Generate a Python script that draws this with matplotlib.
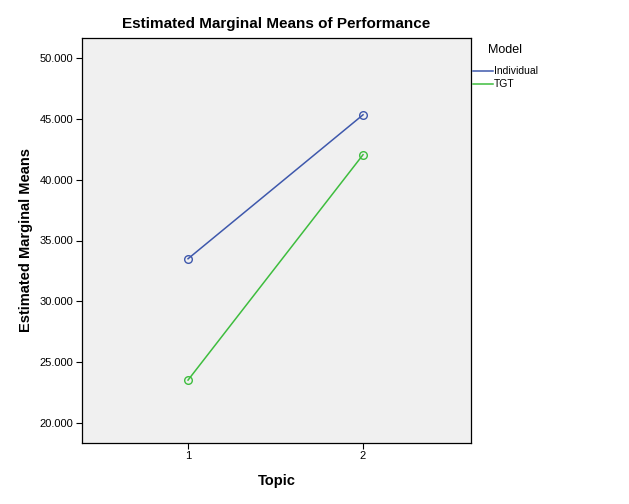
import matplotlib
matplotlib.use("Agg")
import matplotlib.pyplot as plt
from matplotlib.lines import Line2D

plt.rcParams['font.family'] = ['Liberation Sans', 'DejaVu Sans']

topics = [1, 2]
series_names = ["Individual", "TGT"]
individual = [33.5, 45.33]
tgt = [23.53, 42.05]
colors = ["#3e58ac", "#3ebd3e"]
yticks = [20, 25, 30, 35, 40, 45, 50]

W, H = 629, 504
fig = plt.figure(figsize=(W/100, H/100), dpi=100)
fig.patch.set_facecolor("white")
ax = fig.add_axes([82/W, (H-443)/H, (471-82)/W, (443-38)/H])
ax.set_facecolor("#f0f0f0")

for vals, c in zip([individual, tgt], colors):
    ax.plot(topics, vals, color=c, lw=1.1, marker="o", ms=5.5, mfc="none", mec=c, mew=1.0)

ax.set_xlim(0.394, 2.617)
ax.set_ylim(18.36, 51.64)
ax.set_xticks(topics)
ax.set_xticklabels([str(t) for t in topics])
ax.set_yticks(yticks)
ax.set_yticklabels([f"{v:.3f}" for v in yticks])
ax.tick_params(labelsize=8, length=4, width=0.8, color="black", pad=2)
for s in ax.spines.values():
    s.set_linewidth(0.9)
    s.set_color("black")

ax.set_title("Estimated Marginal Means of Performance", fontsize=11, fontweight="bold", pad=7)
ax.set_xlabel("Topic", fontsize=10.5, fontweight="bold", labelpad=9)
ax.set_ylabel("Estimated Marginal Means", fontsize=10.5, fontweight="bold", labelpad=5)

# legend
fig.text(488/W, 1-50/H, "Model", fontsize=9, va="center", ha="left")
for i, (name, c) in enumerate(zip(series_names, colors)):
    y = 1 - (71 + 13*i)/H
    fig.add_artist(Line2D([473/W, 493/W], [y, y], color=c, lw=1.1, transform=fig.transFigure))
    fig.text(494/W, y, name, fontsize=7.5, va="center", ha="left")

fig.savefig("out.png", dpi=100, facecolor="white")
